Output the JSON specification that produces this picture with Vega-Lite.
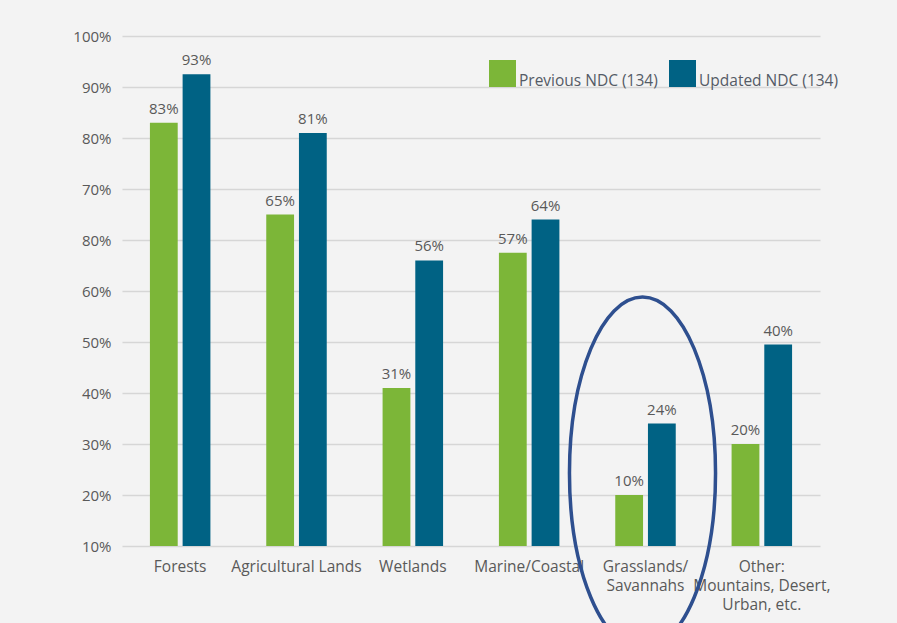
{
  "$schema": "https://vega.github.io/schema/vega-lite/v6.json",
  "width": 698,
  "height": 510,
  "autosize": {"type": "none"},
  "padding": {"left": 122, "top": 36, "right": 77, "bottom": 77},
  "background": "#f3f3f3",
  "config": {"view": {"stroke": null}, "font": "Open Sans"},
  "datasets": {
    "bars": [
      {"land": "Forests", "series": "Previous NDC (134)", "value": 83, "label": "83%"},
      {"land": "Forests", "series": "Updated NDC (134)", "value": 92.5, "label": "93%"},
      {"land": "Agricultural Lands", "series": "Previous NDC (134)", "value": 65, "label": "65%"},
      {"land": "Agricultural Lands", "series": "Updated NDC (134)", "value": 81, "label": "81%"},
      {"land": "Wetlands", "series": "Previous NDC (134)", "value": 31, "label": "31%"},
      {"land": "Wetlands", "series": "Updated NDC (134)", "value": 56, "label": "56%"},
      {"land": "Marine/Coastal", "series": "Previous NDC (134)", "value": 57.5, "label": "57%"},
      {"land": "Marine/Coastal", "series": "Updated NDC (134)", "value": 64, "label": "64%"},
      {"land": "Grasslands/Savannahs", "series": "Previous NDC (134)", "value": 10, "label": "10%"},
      {"land": "Grasslands/Savannahs", "series": "Updated NDC (134)", "value": 24, "label": "24%"},
      {"land": "Other: Mountains, Desert, Urban, etc.", "series": "Previous NDC (134)", "value": 20, "label": "20%"},
      {"land": "Other: Mountains, Desert, Urban, etc.", "series": "Updated NDC (134)", "value": 39.5, "label": "40%"}
    ],
    "highlight": [
      {"land": "Grasslands/Savannahs", "center": 14.3}
    ]
  },
  "layer": [
    {
      "data": {"name": "bars"},
      "mark": {"type": "bar"},
      "encoding": {
        "x": {
          "field": "land", "type": "nominal", "sort": null, "title": null,
          "scale": {"domain": ["Forests", "Agricultural Lands", "Wetlands", "Marine/Coastal", "Grasslands/Savannahs", "Other: Mountains, Desert, Urban, etc."], "paddingInner": 0.48, "paddingOuter": 0.24},
          "axis": {
            "labelAngle": 0, "ticks": false, "domain": false, "labelPadding": 13,
            "labelFont": "Open Sans", "labelFontSize": 15.5, "labelColor": "#595959",
            "labelLineHeight": 19, "labelLimit": 300,
            "labelExpr": "datum.value == 'Grasslands/Savannahs' ? ['Grasslands/', 'Savannahs'] : datum.value == 'Other: Mountains, Desert, Urban, etc.' ? ['Other:', 'Mountains, Desert,', 'Urban, etc.'] : datum.value"
          }
        },
        "xOffset": {"field": "series", "type": "nominal", "sort": null, "scale": {"paddingInner": 0.15, "paddingOuter": 0}},
        "y": {
          "field": "value", "type": "quantitative", "title": null,
          "scale": {"domain": [0, 100], "nice": false},
          "axis": {
            "values": [0, 10, 20, 30, 40, 50, 60, 70, 80, 90, 100],
            "ticks": false, "domain": false, "labelPadding": 11,
            "gridColor": "#d6d6d6", "gridWidth": 1.5,
            "labelFont": "Open Sans", "labelFontSize": 15, "labelColor": "#595959",
            "labelExpr": "datum.value <= 50 ? (datum.value + 10) + '%' : datum.value == 60 ? '80%' : datum.value + '%'"
          }
        },
        "color": {
          "field": "series", "type": "nominal", "sort": null,
          "scale": {"range": ["#7cb638", "#006284"]},
          "legend": {
            "title": null, "orient": "none", "legendX": 367, "legendY": 24,
            "direction": "horizontal", "symbolType": "square", "symbolSize": 729,
            "symbolStrokeWidth": 0, "symbolOpacity": 1,
            "labelFont": "Open Sans", "labelFontSize": 15.5, "labelColor": "#555b66",
            "labelOffset": 3, "labelBaseline": "top", "columnPadding": 11, "labelLimit": 300
          }
        }
      }
    },
    {
      "data": {"name": "bars"},
      "mark": {"type": "text", "baseline": "alphabetic", "dy": -9, "font": "Open Sans", "fontSize": 15, "color": "#595959"},
      "encoding": {
        "x": {"field": "land", "type": "nominal", "sort": null},
        "xOffset": {"field": "series", "type": "nominal", "sort": null},
        "y": {"field": "value", "type": "quantitative"},
        "text": {"field": "label"}
      }
    },
    {
      "data": {"name": "highlight"},
      "mark": {
        "type": "point",
        "shape": "M0,-1C0.2292,-1 0.415,-0.5523 0.415,0C0.415,0.5523 0.2292,1 0,1C-0.2292,1 -0.415,0.5523 -0.415,0C-0.415,-0.5523 -0.2292,-1 0,-1Z",
        "size": 123904, "filled": false, "stroke": "#2e4f8f", "strokeWidth": 3.5,
        "opacity": 1, "strokeOpacity": 1, "xOffset": -3
      },
      "encoding": {
        "x": {"field": "land", "type": "nominal", "sort": null},
        "y": {"field": "center", "type": "quantitative"}
      }
    }
  ]
}
